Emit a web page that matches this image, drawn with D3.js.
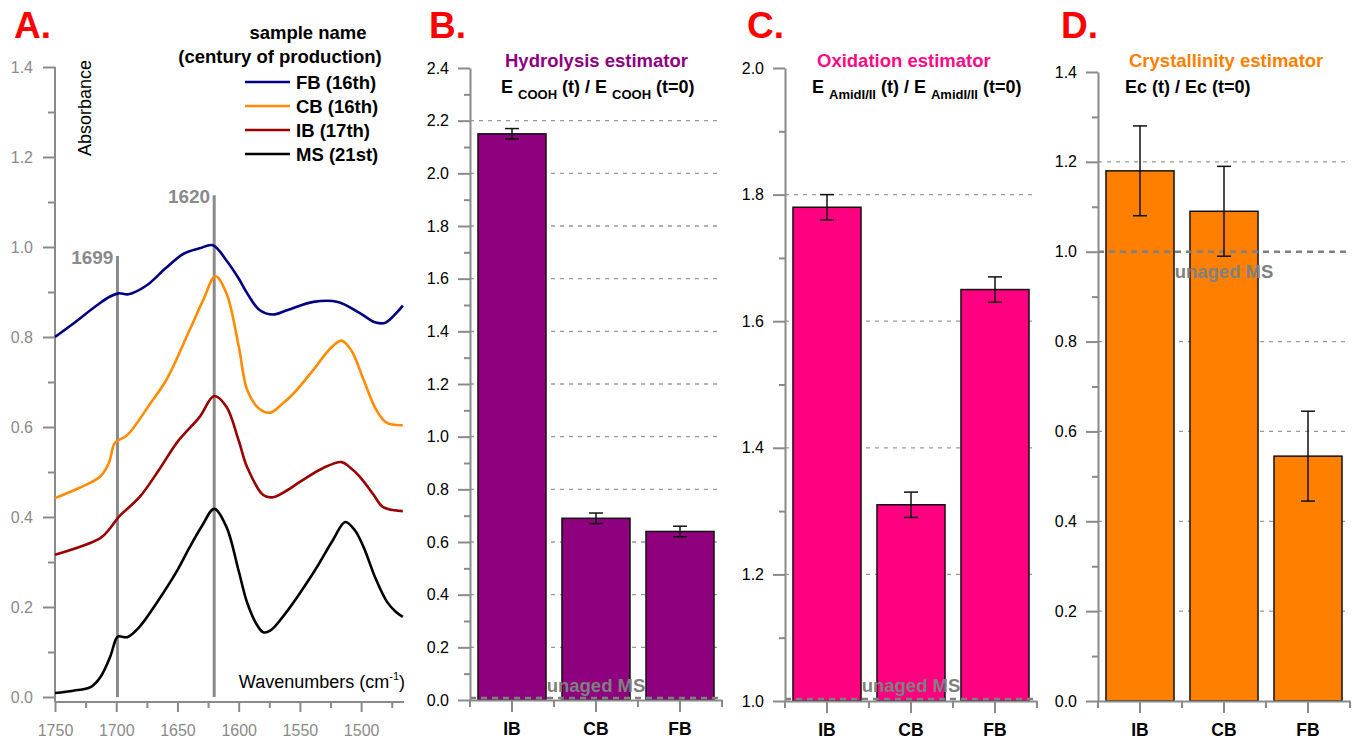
<!DOCTYPE html>
<html>
<head>
<meta charset="utf-8">
<script src="https://cdn.jsdelivr.net/npm/d3@7"></script>
<style>
body { margin: 0; background: #fff; }
text { font-family: "Liberation Sans", Arial, sans-serif; }
</style>
</head>
<body>
<div id="viz"></div>
<script>
// ---- panel A: spectra, [wavenumber, absorbance] ----
const fbSpectrum = [[1750,0.80],[1735,0.83],[1716,0.87],[1705,0.89],[1698,0.897],[1690,0.895],[1675,0.915],[1660,0.952],[1645,0.985],[1632,0.997],[1621,1.004],[1610,0.97],[1600,0.93],[1593,0.897],[1583,0.86],[1572,0.85],[1560,0.86],[1539,0.878],[1519,0.878],[1501,0.853],[1488,0.832],[1480,0.832],[1466,0.87]]
const cbSpectrum = [[1750,0.442],[1730,0.465],[1713,0.49],[1706,0.52],[1701,0.565],[1691,0.582],[1672,0.653],[1659,0.705],[1640,0.816],[1629,0.882],[1619,0.935],[1610,0.897],[1600,0.78],[1593,0.682],[1583,0.64],[1574,0.632],[1565,0.65],[1555,0.675],[1539,0.727],[1525,0.775],[1516,0.792],[1508,0.77],[1498,0.705],[1488,0.64],[1479,0.609],[1466,0.604]]
const ibSpectrum = [[1750,0.316],[1713,0.353],[1705,0.375],[1698,0.40],[1681,0.444],[1665,0.505],[1650,0.567],[1632,0.622],[1620,0.669],[1610,0.645],[1600,0.57],[1593,0.51],[1580,0.449],[1572,0.444],[1560,0.46],[1550,0.478],[1531,0.509],[1516,0.522],[1509,0.51],[1501,0.489],[1490,0.45],[1482,0.422],[1466,0.413]]
const msSpectrum = [[1750,0.009],[1735,0.014],[1721,0.022],[1713,0.044],[1705,0.089],[1700,0.13],[1698,0.135],[1691,0.133],[1681,0.156],[1667,0.209],[1650,0.282],[1640,0.333],[1630,0.38],[1620,0.418],[1610,0.378],[1600,0.28],[1593,0.209],[1585,0.16],[1580,0.144],[1574,0.148],[1564,0.178],[1539,0.276],[1523,0.349],[1513,0.389],[1505,0.37],[1498,0.333],[1488,0.262],[1479,0.212],[1472,0.19],[1466,0.178]]

const sampleLabels = ["FB (16th)", "CB (16th)", "IB (17th)", "MS (21st)"]
const sampleColors = ["#000080", "#ff8c00", "#990000", "#000000"]
const markers = [{wn: 1699, top: 0.98}, {wn: 1620, top: 1.115}]

const absTicks = [0, 0.2, 0.4, 0.6, 0.8, 1.0, 1.2, 1.4]
const absMinor = [0.1, 0.3, 0.5, 0.7, 0.9, 1.1, 1.3]
const wnTicks = [1750, 1700, 1650, 1600, 1550, 1500]
const wnMinor = [1725, 1675, 1625, 1575, 1525, 1475]

// ---- panels B-D: estimators ----
const categories = ["IB", "CB", "FB"]
const hydrolysis = [2.15, 0.69, 0.64]
const hydrolysisErr = [0.02, 0.02, 0.02]
const oxidation = [1.78, 1.31, 1.65]
const oxidationErr = [0.02, 0.02, 0.02]
const crystallinity = [1.18, 1.09, 0.545]
const crystallinityErr = [0.1, 0.1, 0.1]

const hydrolysisTicks = [0, 0.2, 0.4, 0.6, 0.8, 1.0, 1.2, 1.4, 1.6, 1.8, 2.0, 2.2, 2.4]
const oxidationTicks = [1.0, 1.2, 1.4, 1.6, 1.8, 2.0]
const crystallinityTicks = [0, 0.2, 0.4, 0.6, 0.8, 1.0, 1.2, 1.4]

const w = 1356
const h = 742
const axisGray = "#8a8a8a"
const fontFam = "Liberation Sans, Arial, sans-serif"

const svg = d3.select("#viz")
  .append("svg")
  .attr("width", w)
  .attr("height", h)

// panel letters
const letters = [["A.", 14], ["B.", 429], ["C.", 747], ["D.", 1061]]
svg.selectAll(".letter")
  .data(letters)
  .enter()
  .append("text")
  .attr("x", d => d[1])
  .attr("y", 38)
  .attr("font-size", 37)
  .attr("font-weight", "bold")
  .attr("fill", "#ff0000")
  .text(d => d[0])

// ================= panel A =================
const xA = d3.scaleLinear().domain([1750, 1465]).range([55, 404])
const yA = d3.scaleLinear().domain([0, 1.4]).range([697, 67])
const gA = svg.append("g")
const xAxisY = 702

// y axis
gA.append("line")
  .attr("x1", 55).attr("x2", 55)
  .attr("y1", yA(1.4)).attr("y2", xAxisY)
  .attr("stroke", axisGray).attr("stroke-width", 2)

const yAxisA = gA.append("g")
  .attr("transform", "translate(55,0)")
  .call(d3.axisLeft(yA).tickValues(absTicks).tickSize(12).tickPadding(10).tickFormat(d3.format(".1f")))
yAxisA.select(".domain").remove()
yAxisA.selectAll("line").attr("stroke", axisGray).attr("stroke-width", 2)
yAxisA.selectAll("text").attr("font-size", 16).attr("fill", axisGray).attr("font-family", fontFam)

const yMinorA = gA.append("g")
  .attr("transform", "translate(55,0)")
  .call(d3.axisLeft(yA).tickValues(absMinor).tickSize(7).tickFormat(""))
yMinorA.select(".domain").remove()
yMinorA.selectAll("line").attr("stroke", axisGray).attr("stroke-width", 2)

// x axis
const xAxisA = gA.append("g")
  .attr("transform", `translate(0,${xAxisY})`)
  .call(d3.axisBottom(xA).tickValues(wnTicks).tickSize(10).tickPadding(13).tickSizeOuter(0).tickFormat(d3.format("d")))
xAxisA.select(".domain").attr("stroke", axisGray).attr("stroke-width", 2)
  .attr("d", `M55,0H404`)
xAxisA.selectAll("line").attr("stroke", axisGray).attr("stroke-width", 2)
xAxisA.selectAll("text").attr("font-size", 16).attr("fill", axisGray).attr("font-family", fontFam)

const xMinorA = gA.append("g")
  .attr("transform", `translate(0,${xAxisY})`)
  .call(d3.axisBottom(xA).tickValues(wnMinor).tickSize(6).tickFormat(""))
xMinorA.select(".domain").remove()
xMinorA.selectAll("line").attr("stroke", axisGray).attr("stroke-width", 2)

// marker lines
gA.selectAll(".marker")
  .data(markers)
  .enter()
  .append("line")
  .attr("x1", d => xA(d.wn)).attr("x2", d => xA(d.wn))
  .attr("y1", d => yA(d.top)).attr("y2", yA(0))
  .attr("stroke", axisGray).attr("stroke-width", 3)

gA.selectAll(".markerLabel")
  .data(markers)
  .enter()
  .append("text")
  .attr("x", d => xA(d.wn) - 4)
  .attr("y", d => yA(d.top) + 8)
  .attr("text-anchor", "end")
  .attr("font-size", 19)
  .attr("font-weight", "bold")
  .attr("fill", axisGray)
  .text(d => d.wn)

// spectra
const spectra = [fbSpectrum, cbSpectrum, ibSpectrum, msSpectrum]
const lineA = d3.line()
  .x(d => xA(d[0]))
  .y(d => yA(d[1]))
  .curve(d3.curveCatmullRom.alpha(0.5))

gA.selectAll(".spectrum")
  .data(spectra)
  .enter()
  .append("path")
  .attr("d", d => lineA(d))
  .attr("fill", "none")
  .attr("stroke", (d, i) => sampleColors[i])
  .attr("stroke-width", 2.6)

// axis titles
gA.append("text")
  .attr("transform", "translate(91,60) rotate(-90)")
  .attr("text-anchor", "end")
  .attr("font-size", 18)
  .attr("fill", "#000")
  .text("Absorbance")

const wnTitle = gA.append("text")
  .attr("x", 405)
  .attr("y", 688)
  .attr("text-anchor", "end")
  .attr("font-size", 18)
  .attr("fill", "#000")
wnTitle.append("tspan").text("Wavenumbers (cm")
wnTitle.append("tspan").attr("font-size", 11).attr("dy", -8).text("-1")
wnTitle.append("tspan").attr("dy", 8).text(")")

// legend
gA.append("text")
  .attr("x", 308).attr("y", 39)
  .attr("text-anchor", "middle")
  .attr("font-size", 18.5).attr("font-weight", "bold")
  .text("sample name")
gA.append("text")
  .attr("x", 280).attr("y", 63)
  .attr("text-anchor", "middle")
  .attr("font-size", 18.5).attr("font-weight", "bold")
  .text("(century of production)")

const legend = gA.selectAll(".legendItem")
  .data(sampleLabels)
  .enter()
  .append("g")
  .attr("transform", (d, i) => `translate(0,${82 + i * 24})`)
legend.append("line")
  .attr("x1", 245).attr("x2", 290)
  .attr("y1", 0).attr("y2", 0)
  .attr("stroke", (d, i) => sampleColors[i])
  .attr("stroke-width", 2.6)
legend.append("text")
  .attr("x", 296).attr("y", 7)
  .attr("font-size", 18.5).attr("font-weight", "bold")
  .text(d => d)

// ================= panels B-D =================
function barPanel(cfg) {
  const g = svg.append("g")
  const y = d3.scaleLinear().domain(cfg.domain).range([cfg.bottom, cfg.top])
  const x = d3.scaleBand().domain(categories).range([cfg.left, cfg.right])
    .paddingInner(0.19).paddingOuter(0.095)
  const base = cfg.domain[0]
  const minor = d3.range(cfg.ticks.length - 1).map(i => (cfg.ticks[i] + cfg.ticks[i + 1]) / 2)

  // gridlines
  g.selectAll(".grid")
    .data(cfg.ticks.filter(t => t != cfg.ref && t != cfg.domain[0] && t != cfg.domain[1]))
    .enter()
    .append("line")
    .attr("x1", cfg.left).attr("x2", cfg.right)
    .attr("y1", d => y(d)).attr("y2", d => y(d))
    .attr("stroke", "#999")
    .attr("stroke-width", 1.3)
    .attr("stroke-dasharray", "4,5")

  // bars
  g.selectAll("rect")
    .data(cfg.values)
    .enter()
    .append("rect")
    .attr("x", (d, i) => x(categories[i]))
    .attr("y", d => y(d))
    .attr("width", x.bandwidth())
    .attr("height", d => y(base) - y(d))
    .attr("fill", cfg.color)
    .attr("stroke", "#111")
    .attr("stroke-width", 1.5)

  // reference line (unaged MS)
  g.append("line")
    .attr("x1", cfg.left).attr("x2", cfg.right)
    .attr("y1", y(cfg.ref) - (cfg.ref == base ? 2 : 0))
    .attr("y2", y(cfg.ref) - (cfg.ref == base ? 2 : 0))
    .attr("stroke", "#808080")
    .attr("stroke-width", 2.5)
    .attr("stroke-dasharray", "6,5")

  // error bars
  const err = g.selectAll(".err")
    .data(cfg.values)
    .enter()
    .append("g")
  const cx = (i) => x(categories[i]) + x.bandwidth() / 2
  err.append("line")
    .attr("x1", (d, i) => cx(i)).attr("x2", (d, i) => cx(i))
    .attr("y1", (d, i) => y(d + cfg.errors[i])).attr("y2", (d, i) => y(d - cfg.errors[i]))
    .attr("stroke", "#111").attr("stroke-width", 1.5)
  err.append("line")
    .attr("x1", (d, i) => cx(i) - 7).attr("x2", (d, i) => cx(i) + 7)
    .attr("y1", (d, i) => y(d + cfg.errors[i])).attr("y2", (d, i) => y(d + cfg.errors[i]))
    .attr("stroke", "#111").attr("stroke-width", 1.5)
  err.append("line")
    .attr("x1", (d, i) => cx(i) - 7).attr("x2", (d, i) => cx(i) + 7)
    .attr("y1", (d, i) => y(d - cfg.errors[i])).attr("y2", (d, i) => y(d - cfg.errors[i]))
    .attr("stroke", "#111").attr("stroke-width", 1.5)

  // unaged MS label
  g.append("text")
    .attr("x", x("CB") + x.bandwidth() / 2)
    .attr("y", y(cfg.ref) + cfg.refLabelDy)
    .attr("text-anchor", "middle")
    .attr("font-size", 18.5)
    .attr("font-weight", "bold")
    .attr("fill", "#808080")
    .text("unaged MS")

  // left axis
  const yAx = g.append("g")
    .attr("transform", `translate(${cfg.left},0)`)
    .call(d3.axisLeft(y).tickValues(cfg.ticks).tickSize(12).tickPadding(9).tickSizeOuter(0).tickFormat(d3.format(".1f")))
  yAx.select(".domain").attr("stroke", axisGray).attr("stroke-width", 2)
  yAx.selectAll("line").attr("stroke", axisGray).attr("stroke-width", 2)
  yAx.selectAll("text").attr("font-size", 16).attr("fill", "#000").attr("font-family", fontFam)
  const yMin = g.append("g")
    .attr("transform", `translate(${cfg.left},0)`)
    .call(d3.axisLeft(y).tickValues(minor).tickSize(6).tickFormat(""))
  yMin.select(".domain").remove()
  yMin.selectAll("line").attr("stroke", axisGray).attr("stroke-width", 2)

  // bottom axis
  const xAx = g.append("g")
    .attr("transform", `translate(0,${cfg.bottom})`)
    .call(d3.axisBottom(x).tickSize(12).tickPadding(11).tickSizeOuter(0))
  xAx.select(".domain").attr("stroke", axisGray).attr("stroke-width", 2)
  xAx.selectAll("line").attr("stroke", axisGray).attr("stroke-width", 2)
  xAx.selectAll("text").attr("font-size", 17.5).attr("font-weight", "bold").attr("fill", "#000")
    .attr("font-family", fontFam)
  g.selectAll(".bnd")
    .data(d3.range(categories.length + 1))
    .enter()
    .append("line")
    .attr("x1", i => cfg.left + i * x.step()).attr("x2", i => cfg.left + i * x.step())
    .attr("y1", cfg.bottom).attr("y2", cfg.bottom + 7)
    .attr("stroke", axisGray).attr("stroke-width", 2)

  // titles
  g.append("text")
    .attr("x", cfg.titleX).attr("y", 67)
    .attr("font-size", 18.5).attr("font-weight", "bold")
    .attr("fill", cfg.titleColor)
    .text(cfg.title)
  const sub = g.append("text")
    .attr("x", cfg.subX).attr("y", 93)
    .attr("font-size", 18).attr("font-weight", "bold")
    .attr("fill", "#000")
  cfg.subtitle.forEach(part => {
    if (part.sub) {
      sub.append("tspan").attr("font-size", 13).attr("dy", 6).text(part.sub)
      sub.append("tspan").attr("dy", -6).text(" ")
    } else {
      sub.append("tspan").text(part.t)
    }
  })
}

barPanel({
  values: hydrolysis, errors: hydrolysisErr, ticks: hydrolysisTicks,
  domain: [0, 2.4], bottom: 700, top: 68, left: 470, right: 722,
  color: "#8f007f", ref: 0, refLabelDy: -8,
  title: "Hydrolysis estimator", titleColor: "#8f007f", titleX: 505, subX: 501,
  subtitle: [{t: "E "}, {sub: "COOH"}, {t: "(t) / E "}, {sub: "COOH"}, {t: "(t=0)"}]
})

barPanel({
  values: oxidation, errors: oxidationErr, ticks: oxidationTicks,
  domain: [1.0, 2.0], bottom: 701, top: 68, left: 785, right: 1037,
  color: "#ff0080", ref: 1.0, refLabelDy: -9,
  title: "Oxidation estimator", titleColor: "#ff0a84", titleX: 817, subX: 812,
  subtitle: [{t: "E "}, {sub: "AmidI/II"}, {t: "(t) / E "}, {sub: "AmidI/II"}, {t: "(t=0)"}]
})

barPanel({
  values: crystallinity, errors: crystallinityErr, ticks: crystallinityTicks,
  domain: [0, 1.4], bottom: 701, top: 72, left: 1098, right: 1350,
  color: "#ff8000", ref: 1.0, refLabelDy: 26,
  title: "Crystallinity estimator", titleColor: "#ff8000", titleX: 1129, subX: 1125,
  subtitle: [{t: "Ec (t) / Ec (t=0)"}]
})
</script>
</body>
</html>
